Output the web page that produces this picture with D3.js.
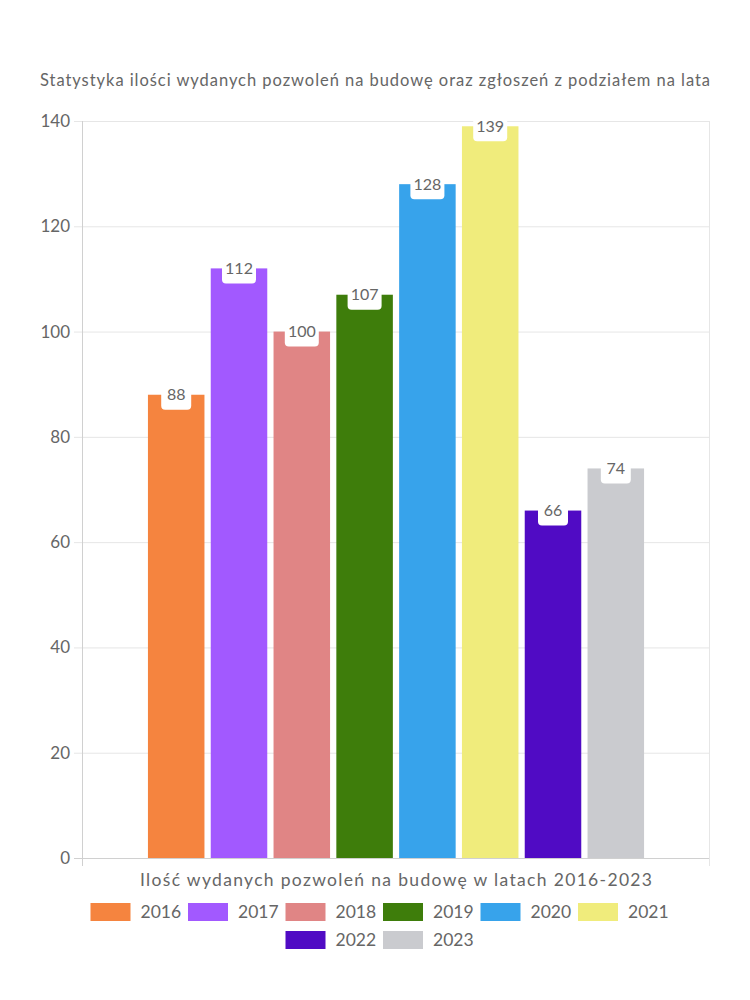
<!DOCTYPE html>
<html>
<head>
<meta charset="utf-8">
<script src="https://cdn.jsdelivr.net/npm/d3@7"></script>
<style>
  body { margin: 0; background: #fff; }
  text { font-family: Lato, 'Open Sans', sans-serif; fill: #666; }
</style>
</head>
<body>
<div id="chart"></div>
<script>
const years = ['2016', '2017', '2018', '2019', '2020', '2021', '2022', '2023']
const permits = [88, 112, 100, 107, 128, 139, 66, 74]
const colors = ['#f5843f', '#a259ff', '#e08585', '#3e7d0b', '#37a3eb', '#f0ec7c', '#500bc4', '#cacbcf']
const yTicks = [0, 20, 40, 60, 80, 100, 120, 140]

const titleText = 'Statystyka ilości wydanych pozwoleń na budowę oraz zgłoszeń z podziałem na lata'
const xTitle = 'Ilość wydanych pozwoleń na budowę w latach 2016-2023'

const margin = { top: 121, right: 40, bottom: 142, left: 82 }
const width = 750 - margin.left - margin.right
const height = 1000 - margin.top - margin.bottom

const svg = d3
  .select('#chart')
  .append('svg')
  .attr('width', 750)
  .attr('height', 1000)

const g = svg.append('g')
  .attr('transform', 'translate(' + margin.left + ',' + margin.top + ')')

const yScale = d3.scaleLinear().domain([0, 140]).range([height, 0])

// one category, datasets side by side (80% of the category, 90% per bar)
const groupScale = d3.scaleBand().domain(years)
  .range([width * 0.1, width * 0.9])
  .paddingInner(0.1).paddingOuter(0.05)

// grid
g.selectAll('.grid')
  .data(yTicks)
  .enter()
  .append('line')
  .attr('x1', -8)
  .attr('x2', width)
  .attr('y1', d => yScale(d) + 0.5)
  .attr('y2', d => yScale(d) + 0.5)
  .attr('stroke', d => d === 0 ? '#d0d0d0' : '#e6e6e6')

g.append('line')
  .attr('x1', 0.5).attr('x2', 0.5)
  .attr('y1', 0).attr('y2', height + 8)
  .attr('stroke', '#d0d0d0')
g.append('line')
  .attr('x1', width - 0.5).attr('x2', width - 0.5)
  .attr('y1', 0).attr('y2', height + 8)
  .attr('stroke', '#e6e6e6')

g.selectAll('.ylab')
  .data(yTicks)
  .enter()
  .append('text')
  .attr('x', -12)
  .attr('y', d => yScale(d))
  .attr('dy', '0.35em')
  .attr('text-anchor', 'end')
  .style('font-size', '17px')
  .text(d => d)

// bars
g.selectAll('.bar')
  .data(permits)
  .enter()
  .append('rect')
  .attr('x', (d, i) => groupScale(years[i]))
  .attr('width', groupScale.bandwidth())
  .attr('y', d => yScale(d))
  .attr('height', d => height - yScale(d))
  .attr('fill', (d, i) => colors[i])

// labels
const lab = g.selectAll('.lab')
  .data(permits)
  .enter()
  .append('g')
  .attr('transform', (d, i) => 'translate(' + (groupScale(years[i]) + groupScale.bandwidth() / 2) + ',' + yScale(d) + ')')

lab.append('rect')
  .attr('x', d => d >= 100 ? -17 : -15)
  .attr('width', d => d >= 100 ? 34 : 30)
  .attr('y', -14)
  .attr('height', 29)
  .attr('rx', 4)
  .attr('fill', '#fff')

lab.append('text')
  .attr('text-anchor', 'middle')
  .attr('dy', '0.35em')
  .style('font-size', '16px')
  .text(d => d)

// titles
svg.append('text')
  .attr('x', 375)
  .attr('y', 80)
  .attr('dy', '0.35em')
  .attr('text-anchor', 'middle')
  .attr('textLength', 670)
  .style('font-size', '16.5px')
  .text(titleText)

svg.append('text')
  .attr('x', margin.left + width / 2)
  .attr('y', 880)
  .attr('dy', '0.35em')
  .attr('text-anchor', 'middle')
  .attr('textLength', 512)
  .style('font-size', '17.5px')
  .text(xTitle)

// legend
const rows = [years.slice(0, 6), years.slice(6)]
const itemW = 97.5
rows.forEach((row, r) => {
  const startX = 375 - (row.length * itemW - 10) / 2 + 3
  const item = svg.selectAll('.leg' + r)
    .data(row)
    .enter()
    .append('g')
    .attr('transform', (d, i) => 'translate(' + (startX + i * itemW) + ',' + (912 + r * 28) + ')')
  item.append('rect')
    .attr('x', 0).attr('y', -9)
    .attr('width', 40).attr('height', 18)
    .attr('fill', d => colors[years.indexOf(d)])
  item.append('text')
    .attr('x', 50)
    .attr('dy', '0.35em')
    .style('font-size', '17.5px')
    .text(d => d)
})
</script>
</body>
</html>
